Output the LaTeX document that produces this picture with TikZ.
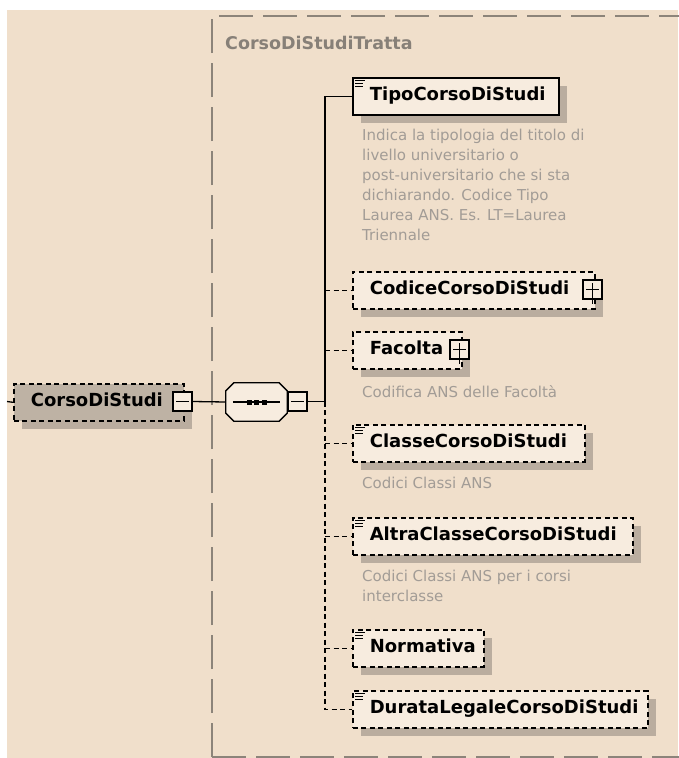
\documentclass[tikz,border=0pt]{standalone}
\usepackage{fontspec}
\setmainfont{DejaVu Sans}
\usetikzlibrary{shadows,calc}
\definecolor{bg}{RGB}{240,223,203}
\definecolor{boxfill}{RGB}{247,236,223}
\definecolor{shadowc}{RGB}{186,173,159}
\definecolor{corsofill}{RGB}{190,178,164}
\definecolor{framec}{RGB}{140,132,122}
\definecolor{titlec}{RGB}{135,128,120}
\definecolor{descc}{RGB}{162,156,150}
\newcommand{\nameF}{\fontsize{18}{20}\selectfont\bfseries}
\newcommand{\titleF}{\fontsize{17.5}{20}\selectfont\bfseries}
\newcommand{\descF}{\fontsize{15}{20}\selectfont}
\newcommand{\elbox}[2]{\makebox[#1][l]{\hspace{17pt}#2}}
\begin{document}
\begin{tikzpicture}[x=1pt,y=-1pt,
  elem/.style={draw=black, line width=1.6pt, fill=boxfill, minimum height=37pt,
    inner sep=0pt, anchor=north west, font=\nameF, text height=13pt, text depth=4pt,
    drop shadow={shadow xshift=8pt, shadow yshift=-8pt, fill=shadowc, opacity=1}},
  optelem/.style={elem, dash pattern=on 5pt off 3.5pt},
  pm/.style={draw=black, line width=1.3pt, fill=boxfill, minimum size=19pt, inner sep=0pt},
  sign/.style={draw=black, line width=1.2pt},
  conn/.style={draw=black, line width=1.3pt},
  dconn/.style={conn, dash pattern=on 5pt off 3.5pt},
  desc/.style={anchor=north west, inner sep=0pt, align=left, font=\descF, text=descc},
  docline/.style={draw=black, line width=0.9pt}
]
\useasboundingbox (0,0) rectangle (678,758);
\fill[white] (0,0) rectangle (678,758);
\fill[bg] (7,10) rectangle (678,758);

% group frame
\draw[framec, line width=1.5pt, dash pattern=on 34pt off 10pt] (212,757) -- (212,16) -- (700,16);
\draw[framec, line width=1.5pt, dash pattern=on 34pt off 10pt] (212,757) -- (700,757);
\node[anchor=west, inner sep=0pt, font=\titleF, text=titlec] (title) at (225,43) {CorsoDiStudiTratta};

% root element
\coordinate (lstub) at (7,401.5);
\node[optelem, fill=corsofill] (corso) at (13,383) {\elbox{170pt}{CorsoDiStudi}};
\node[pm] (cm) at (182.5,401.5) {};
\draw[sign] ([xshift=4pt]cm.west) -- ([xshift=-4pt]cm.east);

% sequence compositor
\node[minimum width=61pt, minimum height=38pt, inner sep=0pt] (seq) at (256.5,402) {};
\fill[shadowc, shift={(6pt,-6pt)}]
  ($(seq.north west)+(8,0)$) -- ($(seq.north east)+(-8,0)$) -- ($(seq.north east)+(0,8)$) --
  ($(seq.south east)+(0,-8)$) -- ($(seq.south east)+(-8,0)$) -- ($(seq.south west)+(8,0)$) --
  ($(seq.south west)+(0,-8)$) -- ($(seq.north west)+(0,8)$) -- cycle;
\filldraw[fill=boxfill, draw=black, line width=1.3pt]
  ($(seq.north west)+(8,0)$) -- ($(seq.north east)+(-8,0)$) -- ($(seq.north east)+(0,8)$) --
  ($(seq.south east)+(0,-8)$) -- ($(seq.south east)+(-8,0)$) -- ($(seq.south west)+(8,0)$) --
  ($(seq.south west)+(0,-8)$) -- ($(seq.north west)+(0,8)$) -- cycle;
\draw[conn] ([xshift=7pt]seq.west) -- ([xshift=-7pt]seq.east);
\foreach \dx in {-7.5,0,7.5} \fill[black] ($(seq.center)+(\dx-2.5,-2.5)$) rectangle ++(5,5);
\node[pm] (sm) at (297.5,401.5) {};
\draw[sign] ([xshift=4pt]sm.west) -- ([xshift=-4pt]sm.east);

\coordinate (trunk) at (325,401.5);

% children
\node[elem] (tipo) at (352,77) {\elbox{206pt}{TipoCorsoDiStudi}};
\node[optelem] (codice) at (352,271) {\elbox{242pt}{CodiceCorsoDiStudi}};
\node[pm] (cp) at (592.5,289.5) {};
\draw[sign] ([xshift=4pt]cp.west) -- ([xshift=-4pt]cp.east);
\draw[sign] ([yshift=-4pt]cp.north) -- ([yshift=-4pt]cp.south);
\node[optelem] (facolta) at (352,331) {\elbox{109pt}{Facolta}};
\node[pm] (fp) at (459.5,349.5) {};
\draw[sign] ([xshift=4pt]fp.west) -- ([xshift=-4pt]fp.east);
\draw[sign] ([yshift=-4pt]fp.north) -- ([yshift=-4pt]fp.south);
\node[optelem] (classe) at (352,424) {\elbox{232pt}{ClasseCorsoDiStudi}};
\node[optelem] (altra) at (352,517) {\elbox{280pt}{AltraClasseCorsoDiStudi}};
\node[optelem] (normativa) at (352,629) {\elbox{131pt}{Normativa}};
\node[optelem] (durata) at (352,690) {\elbox{295pt}{DurataLegaleCorsoDiStudi}};

% documentation icons
\foreach \n in {tipo,classe,altra,normativa,durata}{
  \draw[docline] ([xshift=3pt,yshift=-3pt]\n.north west) -- ++(10,0);
  \draw[docline] ([xshift=3pt,yshift=-6pt]\n.north west) -- ++(8,0);
  \draw[docline] ([xshift=3pt,yshift=-9pt]\n.north west) -- ++(8,0);
}

% descriptions
\node[desc] (d1) at (362,129) {Indica la tipologia del titolo di\\livello universitario o\\post-universitario che si sta\\dichiarando. Codice Tipo\\Laurea ANS. Es. LT=Laurea\\Triennale};
\node[desc] (d2) at (362,385) {Codifica ANS delle Facoltà};
\node[desc] (d3) at (362,477) {Codici Classi ANS};
\node[desc] (d4) at (362,570) {Codici Classi ANS per i corsi\\interclasse};

% connectors
\draw[conn] (lstub) -- (corso.west);
\draw[conn] (cm.east) -- (seq.west);
\draw[conn] (sm.east) -- (trunk);
\draw[conn] (trunk) |- (tipo.west);
\draw[dconn] (trunk) |- (durata.west);
\foreach \n in {codice,facolta,classe,altra,normativa}
  \draw[dconn] (\n.west -| trunk) -- (\n.west);
\end{tikzpicture}
\end{document}
